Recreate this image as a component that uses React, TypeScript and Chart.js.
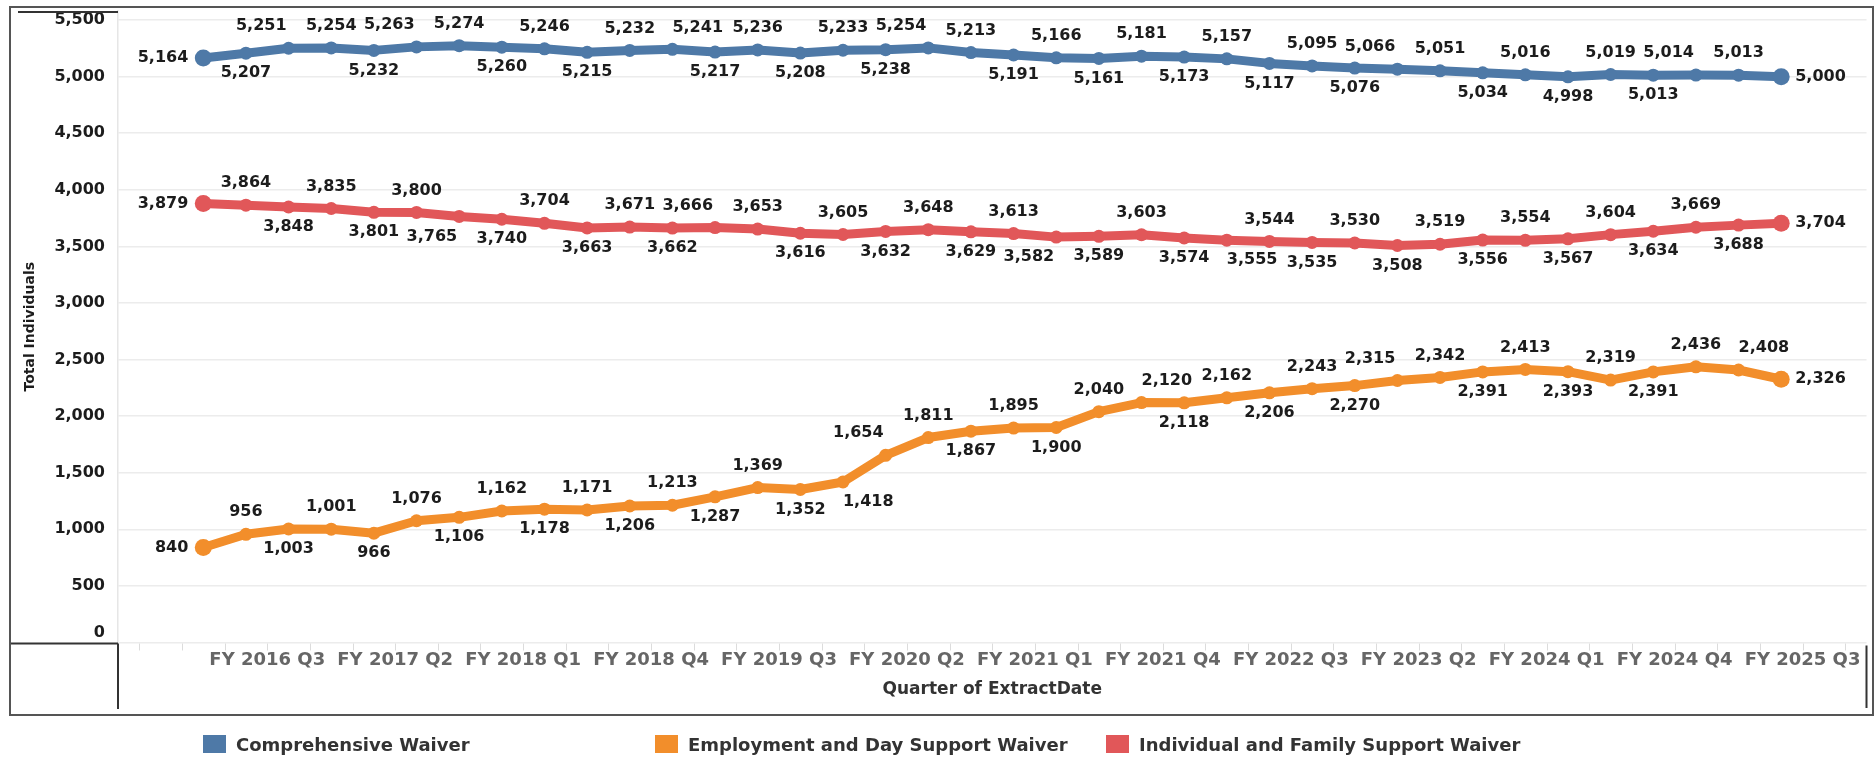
import React, { useEffect, useRef } from "react";
import { Chart, registerables } from "chart.js";

Chart.register(...registerables);

const categories = [
  "FY 2016 Q1", "FY 2016 Q2", "FY 2016 Q3", "FY 2016 Q4",
  "FY 2017 Q1", "FY 2017 Q2", "FY 2017 Q3", "FY 2017 Q4",
  "FY 2018 Q1", "FY 2018 Q2", "FY 2018 Q3", "FY 2018 Q4",
  "FY 2019 Q1", "FY 2019 Q2", "FY 2019 Q3", "FY 2019 Q4",
  "FY 2020 Q1", "FY 2020 Q2", "FY 2020 Q3", "FY 2020 Q4",
  "FY 2021 Q1", "FY 2021 Q2", "FY 2021 Q3", "FY 2021 Q4",
  "FY 2022 Q1", "FY 2022 Q2", "FY 2022 Q3", "FY 2022 Q4",
  "FY 2023 Q1", "FY 2023 Q2", "FY 2023 Q3", "FY 2023 Q4",
  "FY 2024 Q1", "FY 2024 Q2", "FY 2024 Q3", "FY 2024 Q4",
  "FY 2025 Q1", "FY 2025 Q2",
];

const tickLabels = [
  "FY 2016 Q3", "FY 2017 Q2", "FY 2018 Q1", "FY 2018 Q4", "FY 2019 Q3",
  "FY 2020 Q2", "FY 2021 Q1", "FY 2021 Q4", "FY 2022 Q3", "FY 2023 Q2",
  "FY 2024 Q1", "FY 2024 Q4", "FY 2025 Q3",
];

const yTickValues = [0, 500, 1000, 1500, 2000, 2500, 3000, 3500, 4000, 4500, 5000, 5500];

const comprehensive = [
  5164, 5207, 5251, 5254, 5232, 5263, 5274, 5260, 5246, 5215,
  5232, 5241, 5217, 5236, 5208, 5233, 5238, 5254, 5213, 5191,
  5166, 5161, 5181, 5173, 5157, 5117, 5095, 5076, 5066, 5051,
  5034, 5016, 4998, 5019, 5013, 5014, 5013, 5000,
];

const employment = [
  840, 956, 1003, 1001, 966, 1076, 1106, 1162, 1178, 1171,
  1206, 1213, 1287, 1369, 1352, 1418, 1654, 1811, 1867, 1895,
  1900, 2040, 2120, 2118, 2162, 2206, 2243, 2270, 2315, 2342,
  2391, 2413, 2393, 2319, 2391, 2436, 2408, 2326,
];

const individual = [
  3879, 3864, 3848, 3835, 3801, 3800, 3765, 3740, 3704, 3663,
  3671, 3662, 3666, 3653, 3616, 3605, 3632, 3648, 3629, 3613,
  3582, 3589, 3603, 3574, 3555, 3544, 3535, 3530, 3508, 3519,
  3556, 3554, 3567, 3604, 3634, 3669, 3688, 3704,
];

// label side for each mark (style): a=above, b=below, l=left, r=right, L/R = anchored side
const compLabelSide = [
  "l", "b", "aL", "a", "b", "aL", "a", "b", "a", "b",
  "a", "aR", "b", "a", "b", "a", "b", "aL", "a", "b",
  "a", "b", "a", "b", "a", "b", "a", "b", "aL", "a",
  "b", "a", "b", "a", "b", "aL", "a", "r",
];
const emplLabelSide = [
  "l", "a", "b", "a", "b", "a", "b", "a", "b", "a",
  "b", "a", "b", "a", "b", "bR", "aL", "a", "b", "a",
  "b", "a", "aR", "b", "a", "b", "a", "b", "aL", "a",
  "b", "a", "b", "a", "b", "a", "aR", "r",
];
const indLabelSide = [
  "l", "a", "b", "a", "b", "a", "bL", "b", "a", "b",
  "a", "b", "aL", "a", "b", "a", "b", "a", "b", "a",
  "bL", "b", "a", "b", "bR", "a", "b", "a", "b", "a",
  "b", "a", "b", "a", "b", "a", "b", "r",
];

const seriesNames = [
  "Comprehensive Waiver",
  "Employment and Day Support Waiver",
  "Individual and Family Support Waiver",
];
const seriesColors = ["#4e79a7", "#f28e2b", "#e15759"];

const FONT = '"DejaVu Sans", sans-serif';

function quarterIndex(label: string): number {
  const m = label.match(/FY (\d{4}) Q(\d)/);
  if (!m) return 0;
  return (parseInt(m[1], 10) - 2016) * 4 + (parseInt(m[2], 10) - 1);
}

const fmt = (v: number) => v.toLocaleString("en-US");

const dataLabelPlugin = {
  id: "dataLabels",
  afterDatasetsDraw(chart: any) {
    const ctx = chart.ctx;
    ctx.save();
    ctx.font = `bold 16px ${FONT}`;
    ctx.fillStyle = "#1c1c1c";
    ctx.textBaseline = "middle";
    chart.data.datasets.forEach((ds: any, di: number) => {
      const meta = chart.getDatasetMeta(di);
      const sides: string[] = ds.labelSide;
      meta.data.forEach((el: any, i: number) => {
        const v = ds.data[i].y;
        const side = sides[i] || "a";
        let x = el.x;
        let y = el.y;
        let align: CanvasTextAlign = "center";
        if (side === "l") {
          x -= 15;
          align = "right";
        } else if (side === "r") {
          x += 14;
          align = "left";
        } else {
          y += side[0] === "a" ? -22 : 20;
          if (side[1] === "L") {
            x -= 2;
            align = "right";
          } else if (side[1] === "R") {
            align = "left";
          }
        }
        ctx.textAlign = align;
        ctx.fillText(fmt(v), x, y);
      });
    });
    ctx.restore();
  },
};

const framePlugin = {
  id: "frame",
  afterDraw(chart: any) {
    const ctx = chart.ctx;
    const xs = chart.scales.x;
    const area = chart.chartArea;
    ctx.save();
    // minor quarter ticks
    ctx.strokeStyle = "#dcdcdc";
    ctx.lineWidth = 1;
    for (let i = -1; i <= 39; i++) {
      const v = i - 0.5;
      if (v < xs.min || v > xs.max) continue;
      const px = Math.round(xs.getPixelForValue(v)) + 0.5;
      ctx.beginPath();
      ctx.moveTo(px, area.bottom + 1);
      ctx.lineTo(px, area.bottom + 8);
      ctx.stroke();
    }
    // header / pane lines
    ctx.strokeStyle = "#333";
    ctx.lineWidth = 2;
    ctx.beginPath();
    ctx.moveTo(18, 12);
    ctx.lineTo(area.left, 12);
    ctx.moveTo(10, area.bottom + 1);
    ctx.lineTo(area.left, area.bottom + 1);
    ctx.moveTo(area.left, area.bottom + 1);
    ctx.lineTo(area.left, 709);
    ctx.moveTo(area.right, area.bottom + 3);
    ctx.lineTo(area.right, 708);
    ctx.stroke();
    // outer frame
    ctx.strokeStyle = "#555";
    ctx.lineWidth = 2;
    ctx.strokeRect(10, 7, 1863, 708);
    ctx.restore();
  },
};

export default function App() {
  const canvasRef = useRef<HTMLCanvasElement | null>(null);

  useEffect(() => {
    if (!canvasRef.current) return;
    const seriesValues = [comprehensive, employment, individual];
    const sides = [compLabelSide, emplLabelSide, indLabelSide];
    const last = categories.length - 1;
    const datasets = seriesValues.map((vals, si) => ({
      label: seriesNames[si],
      data: vals.map((v, i) => ({ x: i, y: v, q: categories[i] })),
      borderColor: seriesColors[si],
      backgroundColor: seriesColors[si],
      pointBackgroundColor: seriesColors[si],
      pointBorderWidth: 0,
      pointRadius: (c: any) => (c.dataIndex === 0 || c.dataIndex === last ? 8.5 : 6.5),
      borderWidth: 9,
      borderJoinStyle: "round" as const,
      borderCapStyle: "round" as const,
      tension: 0,
      labelSide: sides[si],
    }));

    const chart = new Chart(canvasRef.current, {
      type: "line",
      data: { datasets: datasets as any },
      options: {
        animation: false,
        responsive: false,
        devicePixelRatio: 1,
        layout: { padding: { top: 11, right: 7, left: 0, bottom: 0 } },
        plugins: {
          legend: { display: false },
          tooltip: { enabled: false },
        },
        scales: {
          x: {
            type: "linear",
            min: -2,
            max: 39,
            grid: { display: false, drawTicks: false },
            border: { display: false },
            afterBuildTicks: (scale: any) => {
              scale.ticks = tickLabels.map((l) => ({ value: quarterIndex(l) - 0.5 }));
            },
            afterFit: (scale: any) => {
              scale.height = 114.5;
              scale.paddingLeft = 0;
              scale.paddingRight = 0;
            },
            ticks: {
              autoSkip: false,
              maxRotation: 0,
              minRotation: 0,
              padding: 7,
              color: "#666",
              font: { family: FONT, size: 18, weight: "bold" },
              callback: (_v: any, index: number) => tickLabels[index],
            },
            title: {
              display: true,
              text: "Quarter of ExtractDate",
              color: "#333",
              font: { family: FONT, size: 17, weight: "bold" },
              padding: { top: 0, bottom: 57 },
            },
          },
          y: {
            type: "linear",
            min: 0,
            max: 5580,
            afterBuildTicks: (scale: any) => {
              scale.ticks = yTickValues.map((v) => ({ value: v }));
            },
            afterFit: (scale: any) => {
              scale.width = 118;
              scale.paddingTop = 0;
              scale.paddingBottom = 0;
            },
            grid: { color: "#ececec", lineWidth: 1.5, drawTicks: false },
            border: { display: true, color: "#e6e6e6", width: 1.5 },
            ticks: {
              autoSkip: false,
              padding: 13,
              color: "#1c1c1c",
              font: { family: FONT, size: 16, weight: "bold" },
              callback: (v: any) => (Number(v) === 0 ? ["0", ""] : fmt(Number(v))),
            },
            title: {
              display: true,
              text: "Total Individuals",
              color: "#1c1c1c",
              font: { family: FONT, size: 14, weight: "bold" },
              padding: { top: 22, bottom: 0 },
            },
          },
        },
      },
      plugins: [dataLabelPlugin, framePlugin],
    });
    return () => chart.destroy();
  }, []);

  const legendLefts = [203, 655, 1106];

  return (
    <div style={{ position: "absolute", left: 0, top: 0, width: 1875, height: 757, background: "#fff" }}>
      <canvas ref={canvasRef} width={1875} height={757} style={{ position: "absolute", left: 0, top: 0, width: 1875, height: 757 }} />
      {seriesNames.map((name, i) => (
        <div
          key={name}
          style={{
            position: "absolute",
            left: legendLefts[i],
            top: 735,
            height: 18,
            display: "flex",
            alignItems: "center",
            whiteSpace: "nowrap",
            fontFamily: FONT,
            fontWeight: "bold",
            fontSize: 18,
            color: "#333",
          }}
        >
          <span style={{ display: "inline-block", width: 23, height: 18, background: seriesColors[i], marginRight: 10 }} />
          <span>{name}</span>
        </div>
      ))}
    </div>
  );
}
